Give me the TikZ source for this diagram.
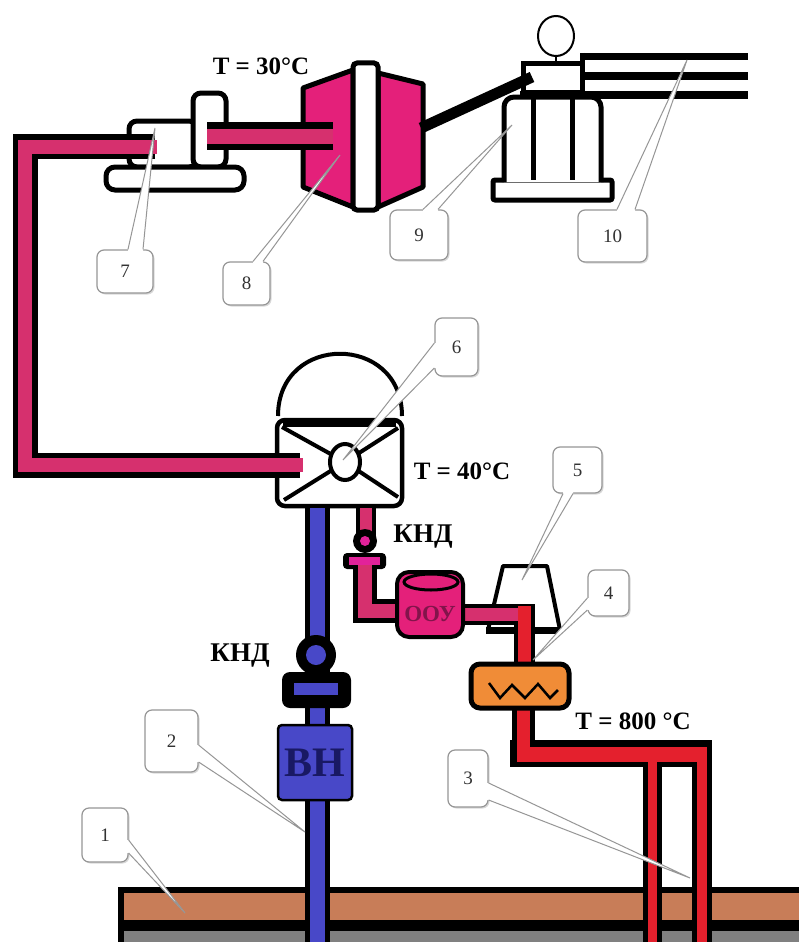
\documentclass[tikz,border=0pt]{standalone}
\usepackage{fontspec}
\setmainfont{Liberation Serif}
\usetikzlibrary{calc,shadows}
\definecolor{pipepink}{RGB}{214,48,110}
\definecolor{turbpink}{RGB}{228,32,122}
\definecolor{pipeblue}{RGB}{72,72,200}
\definecolor{pipered}{RGB}{228,32,45}
\definecolor{heatorange}{RGB}{240,140,55}
\definecolor{soilbrown}{RGB}{200,125,88}
\definecolor{rockgray}{RGB}{128,128,128}
\definecolor{navyink}{RGB}{25,25,100}
\definecolor{tagline}{RGB}{150,150,150}
\definecolor{tagtext}{RGB}{50,50,50}
\definecolor{oouink}{RGB}{130,20,75}
\begin{document}
\begin{tikzpicture}[x=1pt,y=-1pt,
  part/.style={draw=black,line width=5pt,fill=white},
  tag/.style={draw=tagline,line width=1.2pt,fill=white,rounded corners=7pt,
    inner sep=0pt,font=\fontsize{19}{19}\selectfont,text=tagtext,
    drop shadow={shadow xshift=1.5pt,shadow yshift=-1.5pt,opacity=0.3,fill=gray}},
  tagtail/.style={draw=tagline,line width=1pt},
  templabel/.style={font=\fontsize{25}{25}\selectfont\bfseries,inner sep=0pt},
  valvelabel/.style={font=\fontsize{27}{27}\selectfont\bfseries,inner sep=0pt},
]
\useasboundingbox (0,0) rectangle (799,942);
\fill[white] (0,0) rectangle (799,942);

% ---------- ground strata ----------
\fill[black] (118,887) rectangle (800,942);
\fill[soilbrown] (124,893) rectangle (800,920);
\fill[rockgray] (124,931) rectangle (800,942);

% ---------- unit 7 ----------
\draw[part,rounded corners=8pt] (129,121) rectangle (197,167);
\draw[part,rounded corners=8pt] (193,93) rectangle (226,167);
\draw[part,rounded corners=9pt] (106,167) rectangle (244,190);

% ---------- turbine 8 ----------
\draw[line width=5pt,fill=turbpink,line join=round] (303,88)--(353,70)--(353,207)--(303,187)--cycle;
\draw[line width=5pt,fill=turbpink,line join=round] (378,73)--(423,84)--(423,187)--(378,207)--cycle;
\draw[part,rounded corners=4pt] (353,63) rectangle (378,210);

% pipe from unit 7 into the turbine
\draw[line width=28pt] (207,136)--(333,136);
\draw[pipepink,line width=15pt] (207,136)--(333,136);

% ---------- generator 9 and line 10 ----------
\draw[part,rounded corners=2pt] (493,180) rectangle (612,200);
\draw[part,rounded corners=10pt] (504,182)--(504,97)--(601,97)--(601,182);
\draw[line width=5pt] (533,97)--(533,180) (572,97)--(572,180);
\draw[part] (523,64) rectangle (582,92);
\draw[line width=2pt] (556,36) ellipse [x radius=18pt,y radius=20pt];
\draw[line width=2pt] (556,56)--(556,64);
\draw[line width=5pt] (582,53)--(582,96);
\draw[line width=7pt] (582,57)--(748,57);
\draw[line width=7pt] (582,76)--(748,76);
\draw[line width=8pt] (520,95)--(748,95);
\draw[line width=11pt] (421,128)--(532,77);

% ---------- separator 6 ----------
\draw[line width=4pt] (278,416) .. controls (278,333) and (402,333) .. (402,416);
\draw[part,line width=4.5pt,rounded corners=8pt] (277,420) rectangle (402,506);
\draw[line width=7pt] (283,423)--(396,423);
\draw[line width=4pt] (282,427)--(345,462)--(398,428) (284,500)--(345,462)--(398,497);
\draw[line width=4pt,fill=white] (345,462) ellipse [x radius=15pt,y radius=18pt];

% condensate line from unit 7 to the separator
\draw[line width=25pt,line join=miter] (155,146.5)--(25,146.5)--(25,465)--(300,465);
\draw[pipepink,line width=14pt,line join=miter] (157,146.5)--(25,146.5)--(25,465)--(303,465);

% ---------- injection line ----------
\draw[line width=25pt] (317.5,505)--(317.5,942);
\draw[pipeblue,line width=15pt] (317.5,508)--(317.5,942);
% valve
\fill[black] (316,655) circle [radius=20pt];
\fill[pipeblue] (316,655) circle [radius=10pt];
\fill[black,rounded corners=8pt] (282,672) rectangle (351,708);
\fill[pipeblue] (294,683) rectangle (338,695);
\node[valvelabel] (kndlow) at (240,656) {КНД};
% pump
\draw[line width=2.5pt,fill=pipeblue,rounded corners=4pt] (278,725) rectangle (352,800);
\node[font=\fontsize{42}{42}\selectfont\bfseries,text=navyink,inner sep=0pt] (vn) at (315,763) {ВН};

% ---------- trapezoid 5 ----------
\draw[line width=4pt,fill=white,line join=round] (503,566)--(547,566)--(560,630)--(488,630)--cycle;
\draw[line width=7pt] (486,630)--(562,630);

% ---------- line from the separator to the treatment unit ----------
\draw[line width=20pt] (366,505)--(366,545);
\draw[pipepink,line width=12pt] (366,508)--(366,545);
\fill[black] (365,541) circle [radius=12pt];
\fill[pipepink!70!magenta] (365,541) circle [radius=5pt];
\fill[black,rounded corners=4pt] (343,553) rectangle (386,569);
\fill[pipepink!70!magenta] (349,557) rectangle (380,565);
\draw[line width=24pt,line join=miter] (365,569)--(365,611)--(400,611);
\draw[pipepink,line width=14pt,line join=miter] (365,565)--(365,611)--(400,611);
\node[valvelabel] (kndup) at (423,537) {КНД};

% tank ООУ
\draw[line width=21pt,line join=miter] (455,614)--(524,614)--(524,666);
\draw[pipered,line width=13pt] (524,606)--(524,666);
\draw[pipepink,line width=13pt] (455,614)--(518,614);
\draw[line width=4pt,fill=turbpink,rounded corners=12pt] (397,572) rectangle (463,637);
\draw[line width=3pt,fill=turbpink] (431,582) ellipse [x radius=27pt,y radius=8pt];
\node[font=\fontsize{23}{23}\selectfont\bfseries,text=oouink,inner sep=0pt] (oou) at (430,614) {ООУ};

% ---------- heat exchanger 4 ----------
\fill[black] (512,700) rectangle (535,767);
\fill[black] (510,740) rectangle (712,767);
\fill[black] (692,740) rectangle (712,942);
\fill[black] (643,760) rectangle (662,942);
\fill[pipered] (517,700) rectangle (530,762);
\fill[pipered] (517,747) rectangle (707,762);
\fill[pipered] (697,747) rectangle (707,942);
\fill[pipered] (648,755) rectangle (657,942);
\draw[line width=5pt,fill=heatorange,rounded corners=9pt] (471,664) rectangle (569,708);
\draw[line width=2.5pt,line join=miter] (489,683)--(500,698)--(512,685)--(525,698)--(538,684)--(550,698)--(558,690);

% ---------- temperatures ----------
\node[templabel] (t30) at (261,66) {T = 30°C};
\node[templabel] (t40) at (462,471) {T = 40°C};
\node[templabel] (t800) at (633,721) {T = 800 °C};

% ---------- numbered callouts ----------
\node[tag,minimum width=56pt,minimum height=43pt] (n7) at (125,271.5) {7};
\coordinate (p7) at (155,128);
\fill[white] ($(n7.north)+(3,3)$)--($(n7.north)+(3,0)$)--(p7)--($(n7.north)+(18,0)$)--($(n7.north)+(18,3)$)--cycle;
\draw[tagtail] ($(n7.north)+(3,0)$)--(p7)--($(n7.north)+(18,0)$);

\node[tag,minimum width=47pt,minimum height=43pt] (n8) at (246.5,283.5) {8};
\coordinate (p8) at (340,155);
\fill[white] ($(n8.north)+(6.5,3)$)--($(n8.north)+(6.5,0)$)--(p8)--($(n8.north)+(16.5,0)$)--($(n8.north)+(16.5,3)$)--cycle;
\draw[tagtail] ($(n8.north)+(6.5,0)$)--(p8)--($(n8.north)+(16.5,0)$);

\node[tag,minimum width=58pt,minimum height=50pt] (n9) at (419,235) {9};
\coordinate (p9) at (512,125);
\fill[white] ($(n9.north)+(4,3)$)--($(n9.north)+(4,0)$)--(p9)--($(n9.north)+(19,0)$)--($(n9.north)+(19,3)$)--cycle;
\draw[tagtail] ($(n9.north)+(4,0)$)--(p9)--($(n9.north)+(19,0)$);

\node[tag,minimum width=69pt,minimum height=52pt] (n10) at (612.5,236) {10};
\coordinate (p10) at (687,60);
\fill[white] ($(n10.north)+(4.5,3)$)--($(n10.north)+(4.5,0)$)--(p10)--($(n10.north)+(22.5,0)$)--($(n10.north)+(22.5,3)$)--cycle;
\draw[tagtail] ($(n10.north)+(4.5,0)$)--(p10)--($(n10.north)+(22.5,0)$);

\node[tag,minimum width=43pt,minimum height=58pt] (n6) at (456.5,347) {6};
\coordinate (p6) at (343,460);
\fill[white] ($(n6.west)+(3,-4)$)--($(n6.west)+(0,-4)$)--(p6)--($(n6.west)+(0,21)$)--($(n6.west)+(3,21)$)--cycle;
\draw[tagtail] ($(n6.west)+(0,-4)$)--(p6)--($(n6.west)+(0,21)$);

\node[tag,minimum width=49pt,minimum height=46pt] (n5) at (577.5,470) {5};
\coordinate (p5) at (522,580);
\fill[white] ($(n5.south)+(-14.5,-3)$)--($(n5.south)+(-14.5,0)$)--(p5)--($(n5.south)+(-4.5,0)$)--($(n5.south)+(-4.5,-3)$)--cycle;
\draw[tagtail] ($(n5.south)+(-14.5,0)$)--(p5)--($(n5.south)+(-4.5,0)$);

\node[tag,minimum width=41pt,minimum height=46pt] (n4) at (608.5,593) {4};
\coordinate (p4) at (533,660);
\fill[white] ($(n4.west)+(3,5)$)--($(n4.west)+(0,5)$)--(p4)--($(n4.west)+(0,17)$)--($(n4.west)+(3,17)$)--cycle;
\draw[tagtail] ($(n4.west)+(0,5)$)--(p4)--($(n4.west)+(0,17)$);

\node[tag,minimum width=40pt,minimum height=57pt] (n3) at (468,778.5) {3};
\coordinate (p3) at (690,878);
\fill[white] ($(n3.east)+(-3,4.5)$)--($(n3.east)+(0,4.5)$)--(p3)--($(n3.east)+(0,21.5)$)--($(n3.east)+(-3,21.5)$)--cycle;
\draw[tagtail] ($(n3.east)+(0,4.5)$)--(p3)--($(n3.east)+(0,21.5)$);

\node[tag,minimum width=53pt,minimum height=62pt] (n2) at (171.5,741) {2};
\coordinate (p2) at (305,832);
\fill[white] ($(n2.east)+(-3,4)$)--($(n2.east)+(0,4)$)--(p2)--($(n2.east)+(0,21)$)--($(n2.east)+(-3,21)$)--cycle;
\draw[tagtail] ($(n2.east)+(0,4)$)--(p2)--($(n2.east)+(0,21)$);

\node[tag,minimum width=46pt,minimum height=54pt] (n1) at (105,835) {1};
\coordinate (p1) at (185,913);
\fill[white] ($(n1.east)+(-3,5)$)--($(n1.east)+(0,5)$)--(p1)--($(n1.east)+(0,18)$)--($(n1.east)+(-3,18)$)--cycle;
\draw[tagtail] ($(n1.east)+(0,5)$)--(p1)--($(n1.east)+(0,18)$);
\end{tikzpicture}
\end{document}
